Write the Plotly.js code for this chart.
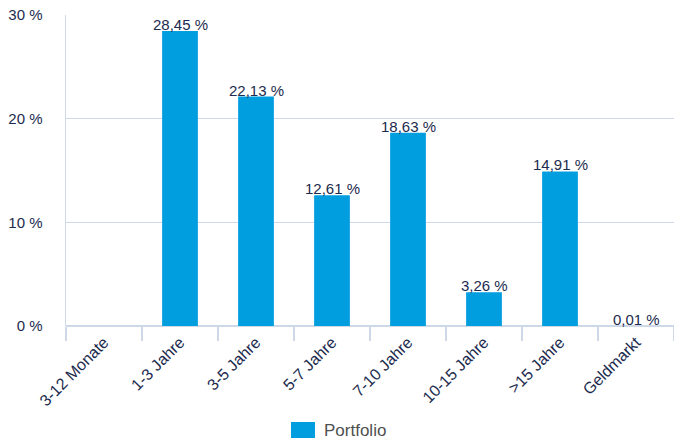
<!DOCTYPE html>
<html><head><meta charset="utf-8">
<script src="https://cdn.plot.ly/plotly-3.0.1.min.js"></script>
<style>html,body{margin:0;padding:0;background:#fff}#chart{width:674px;height:442px}</style>
</head><body><div id="chart"></div>
<script>
var categories = ["3-12 Monate","1-3 Jahre","3-5 Jahre","5-7 Jahre","7-10 Jahre","10-15 Jahre",">15 Jahre","Geldmarkt"];
var portfolio = [null, 28.45, 22.13, 12.61, 18.63, 3.26, 14.91, 0.01];
var seriesName = "Portfolio";
var yTicks = [0, 10, 20, 30];
var yTickText = yTicks.map(function (v) { return v + " %"; });

var navy = "#1c2b4e";
var grid = "#cdd8e8";
var barColor = "#009ddf";

var trace = {
  type: "bar",
  x: categories,
  y: portfolio,
  name: seriesName,
  marker: {color: barColor},
  cliponaxis: false,
  hoverinfo: "skip",
  showlegend: false
};

var labelAnnotations = [];
categories.forEach(function (c, i) {
  if (portfolio[i] === null) return;
  labelAnnotations.push({
    x: c, y: portfolio[i], xref: "x", yref: "y",
    text: portfolio[i].toFixed(2).replace(".", ",") + " %",
    showarrow: false, xanchor: "center", yanchor: "bottom", yshift: -4,
    font: {size: 15, color: navy}
  });
});

var layout = {
  width: 674, height: 442,
  margin: {l: 66, r: 0, t: 15, b: 116},
  paper_bgcolor: "#fff", plot_bgcolor: "#fff",
  separators: ",.",
  font: {family: "Liberation Sans, Arial, sans-serif", color: navy, size: 15},
  bargap: 0.53,
  xaxis: {
    type: "category",
    tickson: "boundaries",
    ticks: "outside", ticklen: 14, tickcolor: grid, tickwidth: 1.5,
    tickangle: -45,
    ticklabelstandoff: 3,
    showgrid: false,
    showline: false,
    zeroline: false,
    tickfont: {size: 16, color: navy},
    range: [-0.5, 7.5]
  },
  yaxis: {
    range: [0, 30],
    tickmode: "array",
    tickvals: yTicks,
    ticktext: yTickText,
    showgrid: true, gridcolor: grid, gridwidth: 1.5,
    zeroline: true, zerolinecolor: grid, zerolinewidth: 1.5,
    showline: true, linecolor: grid, linewidth: 1.5,
    ticks: "", ticklabelstandoff: 19,
    tickfont: {size: 15, color: navy}
  },
  shapes: [{
    type: "rect", xref: "paper", yref: "paper",
    x0: (291-66)/608, x1: (315-66)/608,
    y0: -(422-326)/311, y1: -(438-326)/311,
    fillcolor: barColor, line: {width: 0}
  }],
  annotations: labelAnnotations.concat([{
    xref: "paper", yref: "paper",
    x: (322-66)/608, y: -(430-326)/311,
    xanchor: "left", yanchor: "middle",
    text: seriesName, showarrow: false,
    font: {size: 17, color: "#505050"}
  }])
};

Plotly.newPlot("chart", [trace], layout, {staticPlot: true, displayModeBar: false});
</script></body></html>
